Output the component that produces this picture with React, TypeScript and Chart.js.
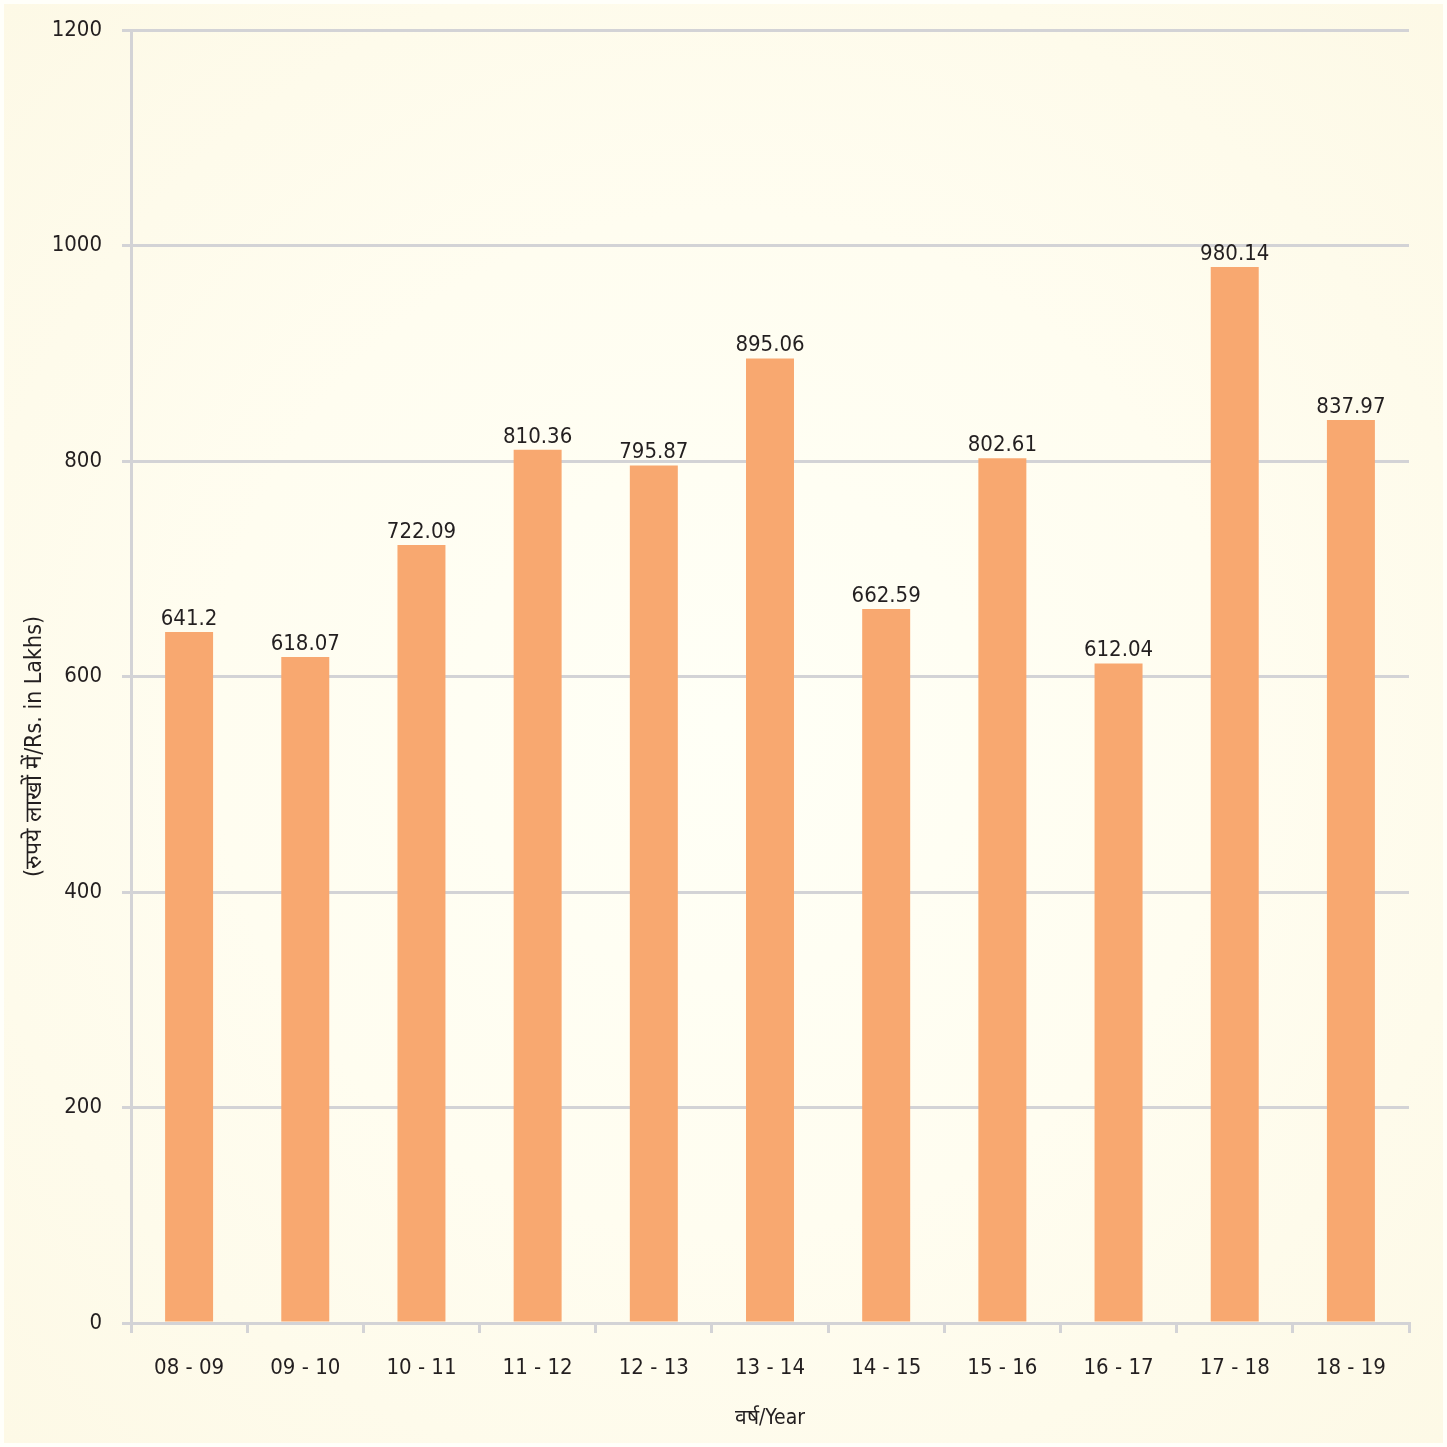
import React, { useEffect, useRef } from "react";
import { Chart, registerables } from "chart.js";

Chart.register(...registerables);

const categories: string[] = ["08 - 09", "09 - 10", "10 - 11", "11 - 12", "12 - 13", "13 - 14", "14 - 15", "15 - 16", "16 - 17", "17 - 18", "18 - 19"];
const values: number[] = [641.2, 618.07, 722.09, 810.36, 795.87, 895.06, 662.59, 802.61, 612.04, 980.14, 837.97];
const valueLabels: string[] = ["641.2", "618.07", "722.09", "810.36", "795.87", "895.06", "662.59", "802.61", "612.04", "980.14", "837.97"];
const yTicks: number[] = [0, 200, 400, 600, 800, 1000, 1200];
const yTitle = "(रुपये लाखों में/Rs. in Lakhs)";
const xTitle = "वर्ष/Year";

const FONT = "'DejaVu Sans', sans-serif";
const GRID = "#d3d3d6";
const TEXT = "#231f20";

const valueLabelPlugin = {
  id: "valueLabels",
  afterDatasetsDraw(chart: any) {
    const ctx = chart.ctx;
    const meta = chart.getDatasetMeta(0);
    ctx.save();
    ctx.font = `condensed 22px ${FONT}`;
    ctx.fillStyle = TEXT;
    ctx.textAlign = "center";
    ctx.textBaseline = "bottom";
    meta.data.forEach((bar: any, i: number) => {
      ctx.fillText(valueLabels[i], bar.x, bar.y - 2);
    });
    ctx.restore();
  },
};

const yTitlePlugin = {
  id: "yTitle",
  afterDraw(chart: any) {
    const ctx = chart.ctx;
    const y = chart.scales.y;
    ctx.save();
    ctx.font = `condensed 23px ${FONT}`;
    ctx.fillStyle = TEXT;
    ctx.textAlign = "center";
    ctx.textBaseline = "middle";
    ctx.translate(35, y.getPixelForValue(535));
    ctx.rotate(-Math.PI / 2);
    ctx.fillText(yTitle, 0, 0);
    ctx.restore();
  },
};

export default function App() {
  const ref = useRef<HTMLCanvasElement | null>(null);
  useEffect(() => {
    if (!ref.current) return;
    const chart = new Chart(ref.current, {
      type: "bar",
      data: {
        labels: categories,
        datasets: [
          {
            data: values,
            backgroundColor: "#f8a870",
            barPercentage: 0.413,
            categoryPercentage: 1,
          },
        ],
      },
      options: {
        animation: false,
        responsive: true,
        maintainAspectRatio: false,
        layout: { padding: { left: 22, right: 38, top: 30, bottom: 0 } },
        plugins: { legend: { display: false }, tooltip: { enabled: false } },
        scales: {
          x: {
            offset: true,
            grid: {
              display: true,
              drawOnChartArea: false,
              color: GRID,
              lineWidth: 3,
              tickLength: 10,
              offset: true,
            },
            border: { display: true, color: GRID, width: 3 },
            ticks: { color: TEXT, font: { family: FONT, size: 22, weight: "condensed" as any }, padding: 22, maxRotation: 0 },
            title: { display: true, text: xTitle, color: TEXT, font: { family: FONT, size: 21, weight: "condensed" as any }, padding: { top: 18, bottom: 16 } },
            afterFit: (scale: any) => {
              scale.height = 1447 - 1323;
            },
          },
          y: {
            min: 0,
            max: 1200,
            afterBuildTicks: (scale: any) => {
              scale.ticks = yTicks.map((v) => ({ value: v }));
            },
            grid: { color: GRID, lineWidth: 3, tickLength: 9 },
            border: { display: true, color: GRID, width: 3 },
            ticks: {
              color: TEXT,
              font: { family: FONT, size: 22, weight: "condensed" as any },
              padding: 20,
              callback: (v: any) => String(v),
            },
            title: { display: false },
            afterFit: (scale: any) => {
              scale.width = 131 - 22;
              scale.paddingTop = 0;
              scale.paddingBottom = 0;
            },
          },
        },
      },
      plugins: [valueLabelPlugin, yTitlePlugin],
    });
    return () => chart.destroy();
  }, []);
  return (
    <div
      style={{
        position: "fixed",
        left: 0,
        top: 0,
        width: 1447,
        height: 1447,
        background: "radial-gradient(circle at 50% 50%, #fffff6 0%, #fffdf0 50%, #fdf9e6 100%)",
        boxSizing: "border-box",
        border: "4px solid #fffffa",
      }}
    >
      <div style={{ position: "absolute", left: -4, top: -4, width: 1447, height: 1447 }}>
        <canvas ref={ref} />
      </div>
    </div>
  );
}
